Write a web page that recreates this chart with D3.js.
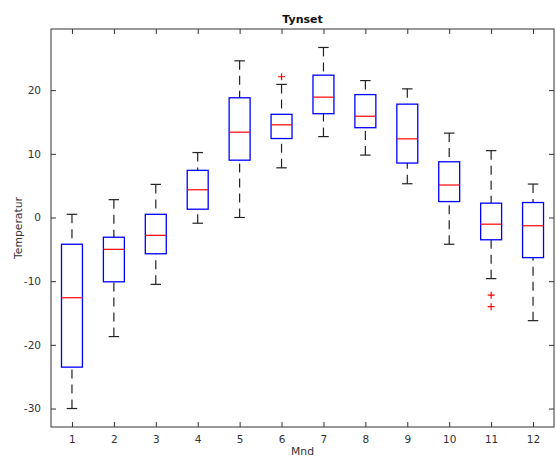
<!DOCTYPE html>
<html>
<head>
    <meta charset="utf-8">
    <title>Tynset</title>
    <script src="https://cdnjs.cloudflare.com/ajax/libs/d3/7.8.5/d3.min.js"></script>
    <style>
        body { margin: 0; background: #fff; }
        text { font-family: "DejaVu Sans", sans-serif; fill: #333; }
    </style>
</head>
<body>
    <div id="chart"></div>
    <script>
        // monthly temperature boxplots
        var months = [1, 2, 3, 4, 5, 6, 7, 8, 9, 10, 11, 12];
        var whiskerLow  = [-30.0, -18.7, -10.5, -0.9, 0.0, 7.8, 12.7, 9.8, 5.3, -4.2, -9.6, -16.2];
        var q1          = [-23.5, -10.1, -5.7, 1.3, 9.0, 12.4, 16.3, 14.1, 8.55, 2.5, -3.5, -6.3];
        var medians     = [-12.6, -5.0, -2.8, 4.35, 13.4, 14.55, 18.9, 15.9, 12.35, 5.1, -1.05, -1.3];
        var q3          = [-4.2, -3.1, 0.5, 7.4, 18.8, 16.2, 22.35, 19.3, 17.8, 8.75, 2.25, 2.35];
        var whiskerHigh = [0.5, 2.8, 5.2, 10.2, 24.6, 20.9, 26.7, 21.5, 20.2, 13.25, 10.5, 5.25];
        var outlierMonths = [6, 11, 11];
        var outlierValues = [22.1, -12.2, -14.0];
        var yTicks = [-30, -20, -10, 0, 10, 20];

        var width = 556, height = 466;
        var margin = { top: 29, right: 2, bottom: 39, left: 51 };

        var svg = d3.select("#chart").append("svg")
            .attr("width", width)
            .attr("height", height);

        var x = d3.scaleLinear().domain([0.5, 12.5]).range([margin.left, width - margin.right]);
        var y = d3.scaleLinear().domain([-32.9, 29.6]).range([height - margin.bottom, margin.top]);

        var boxHalf = 0.25, capHalf = 0.125;

        // axes box with inward ticks
        var tickLen = 5;
        svg.append("g")
            .attr("transform", "translate(0," + y.range()[0] + ")")
            .call(d3.axisBottom(x).tickValues(months).tickSize(-tickLen).tickPadding(9).tickFormat(function (d) { return String(d); }))
            .call(function (g) { g.select(".domain").remove(); });
        svg.append("g")
            .attr("transform", "translate(0," + y.range()[1] + ")")
            .call(d3.axisTop(x).tickValues(months).tickSize(-tickLen).tickFormat(""))
            .call(function (g) { g.select(".domain").remove(); });
        svg.append("g")
            .attr("transform", "translate(" + x.range()[0] + ",0)")
            .call(d3.axisLeft(y).tickValues(yTicks).tickSize(-tickLen).tickPadding(10).tickFormat(function (d) { return String(d); }))
            .call(function (g) { g.select(".domain").remove(); });
        svg.append("g")
            .attr("transform", "translate(" + x.range()[1] + ",0)")
            .call(d3.axisRight(y).tickValues(yTicks).tickSize(-tickLen).tickFormat(""))
            .call(function (g) { g.select(".domain").remove(); });

        svg.selectAll(".tick line").attr("stroke", "#333");
        svg.selectAll(".tick text").style("font-size", "10.5px").attr("fill", "#333");

        svg.append("rect")
            .attr("x", x.range()[0])
            .attr("y", y.range()[1])
            .attr("width", x.range()[1] - x.range()[0])
            .attr("height", y.range()[0] - y.range()[1])
            .attr("fill", "none")
            .attr("stroke", "#333")
            .attr("stroke-width", 1);

        var boxes = svg.append("g");
        for (var i = 0; i < months.length; i++) {
            var m = months[i];

            // dashed whiskers
            boxes.append("line")
                .attr("x1", x(m)).attr("x2", x(m))
                .attr("y1", y(whiskerHigh[i])).attr("y2", y(q3[i]))
                .attr("stroke", "#222").attr("stroke-width", 1.2)
                .attr("stroke-dasharray", "9,6");
            boxes.append("line")
                .attr("x1", x(m)).attr("x2", x(m))
                .attr("y1", y(whiskerLow[i])).attr("y2", y(q1[i]))
                .attr("stroke", "#222").attr("stroke-width", 1.2)
                .attr("stroke-dasharray", "9,6");

            // caps
            [whiskerHigh[i], whiskerLow[i]].forEach(function (v) {
                boxes.append("line")
                    .attr("x1", x(m - capHalf)).attr("x2", x(m + capHalf))
                    .attr("y1", y(v)).attr("y2", y(v))
                    .attr("stroke", "#222").attr("stroke-width", 1.2);
            });

            boxes.append("rect")
                .attr("x", x(m - boxHalf))
                .attr("y", y(q3[i]))
                .attr("width", x(m + boxHalf) - x(m - boxHalf))
                .attr("height", y(q1[i]) - y(q3[i]))
                .attr("fill", "none")
                .attr("stroke", "#0000ff")
                .attr("stroke-width", 1.3);

            boxes.append("line")
                .attr("x1", x(m - boxHalf)).attr("x2", x(m + boxHalf))
                .attr("y1", y(medians[i])).attr("y2", y(medians[i]))
                .attr("stroke", "#ff0000").attr("stroke-width", 1.2);
        }

        // outliers as red plus signs
        for (var k = 0; k < outlierMonths.length; k++) {
            var ox = x(outlierMonths[k]), oy = y(outlierValues[k]);
            boxes.append("path")
                .attr("d", "M" + (ox - 3.5) + "," + oy + "H" + (ox + 3.5) + "M" + ox + "," + (oy - 3.5) + "V" + (oy + 3.5))
                .attr("stroke", "#ff0000").attr("stroke-width", 1.2);
        }

        svg.append("text")
            .attr("x", (x.range()[0] + x.range()[1]) / 2)
            .attr("y", 22.5)
            .attr("text-anchor", "middle")
            .style("font-size", "11px")
            .style("font-weight", "bold")
            .style("fill", "#111")
            .text("Tynset");

        svg.append("text")
            .attr("x", (x.range()[0] + x.range()[1]) / 2)
            .attr("y", 455)
            .attr("text-anchor", "middle")
            .style("font-size", "10.8px")
            .text("Mnd");

        svg.append("text")
            .attr("transform", "translate(22," + ((y.range()[0] + y.range()[1]) / 2) + ") rotate(-90)")
            .attr("text-anchor", "middle")
            .style("font-size", "10.8px")
            .text("Temperatur");
    </script>
</body>
</html>
